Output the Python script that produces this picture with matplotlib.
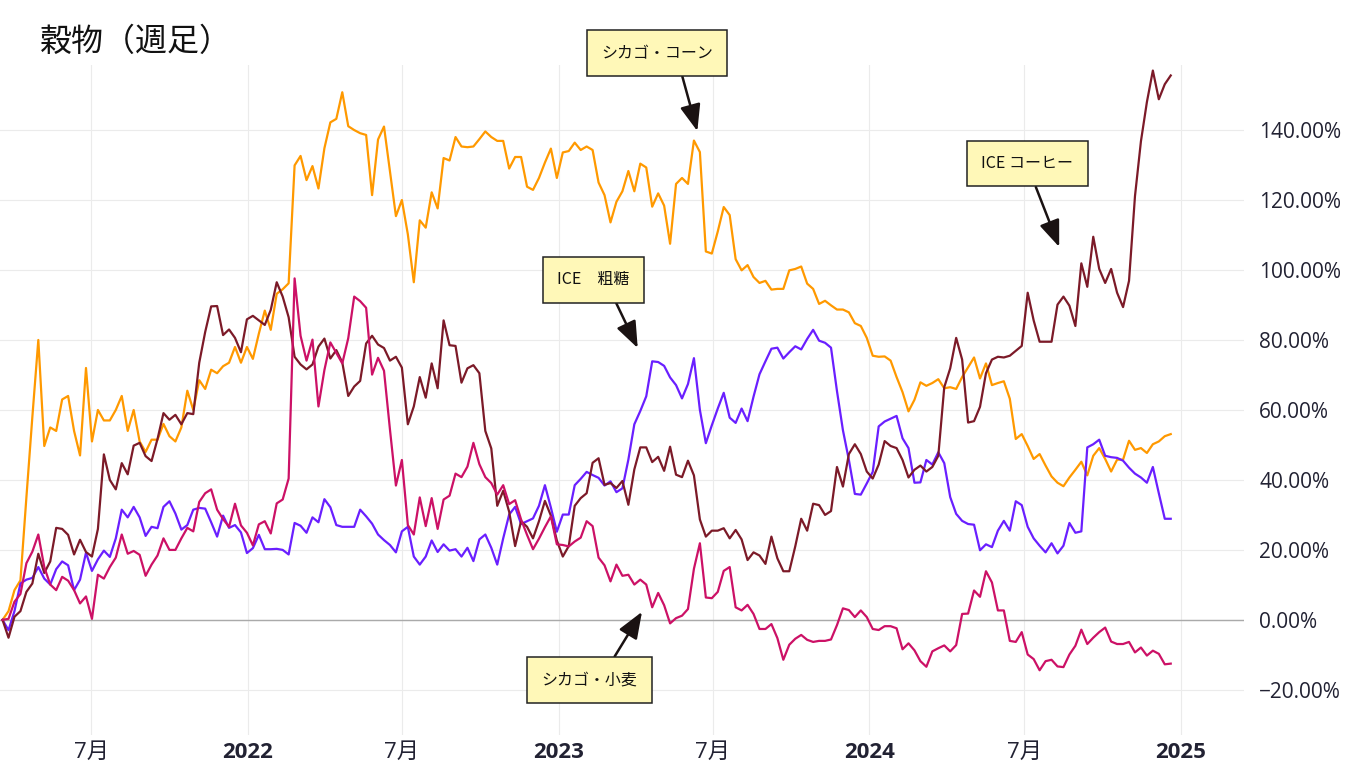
import matplotlib
matplotlib.use("Agg")
import matplotlib.pyplot as plt
from matplotlib.ticker import FuncFormatter
import pandas as pd

# 週足の騰落率（%）、2021-03-19 起点
start_date = "2021-03-19"

corn = [0, 2.5, 8.5, 11.3, 35, 58, 80, 49.7, 55, 54,
        63, 64, 54, 47, 72, 51, 60, 57, 57, 60,
        64, 54, 60, 51, 48, 51.5, 51.5, 56, 52.5, 51,
        55, 65.5, 60, 68.5, 66, 71.5, 70.5, 72.5, 73.5, 78,
        73.5, 78, 74.6, 81.8, 88.4, 82.9, 93.2, 94.5, 96.2, 129.9,
        132.6, 125.7, 129.7, 123.3, 134.8, 142.2, 143.2, 150.8, 141.1, 140,
        139.1, 138.6, 121.4, 137.3, 141, 128.2, 115.4, 120, 110.2, 96.5,
        114.2, 112.1, 122.2, 117.6, 132, 131.3, 138, 135.3, 135.1, 135.3,
        137.4, 139.6, 138, 136.9, 136.9, 129, 132.3, 132.3, 123.8, 122.9,
        126.3, 130.7, 134.7, 126.3, 133.6, 134, 136.4, 134.3, 135.3, 134.3,
        125, 121.4, 113.6, 119.5, 122.5, 128.3, 122.5, 130.4, 129.3, 118.1,
        121.9, 118.4, 107.5, 124.6, 126.3, 124.6, 137, 133.7, 105.3, 104.7,
        111, 118, 115.7, 103.1, 99.9, 101.4, 98, 96.3, 96.9, 94.4,
        94.6, 94.6, 99.9, 100.3, 101, 96.1, 94.6, 90.3, 91.2, 89.9,
        88.7, 88.7, 87.9, 84.8, 84, 80.6, 75.5, 75.2, 75.3, 74.1,
        69.4, 65.1, 59.6, 62.9, 67.9, 66.9, 67.7, 68.8, 66.2, 66.5,
        66, 69.4, 72.2, 75, 69, 73.3, 67.1, 67.7, 68.2, 63.2,
        51.7, 53.1, 49.7, 46, 47.4, 44.1, 41, 39.2, 38.2, 40.7,
        42.9, 45.2, 41.3, 46.9, 49.1, 46, 42.4, 45.8, 45.8, 51.2,
        48.6, 49.1, 47.7, 50.2, 51, 52.5, 53.1]

sugar = [0, -2.95, 2.5, 10.4, 11.5, 12, 15.1, 11.8, 10.1, 14.5,
         16.7, 15.6, 8.5, 11.5, 19.2, 14, 17.3, 19.8, 18, 23.3,
         31.5, 29.3, 32.3, 29.3, 24, 26.6, 26.2, 32.3, 33.9, 30.4,
         25.8, 27.1, 31.5, 32, 31.8, 27.9, 23.8, 29.8, 26.3, 27.1,
         25, 19.1, 20.5, 24.3, 20.2, 20.2, 20.3, 20, 18.7, 27.7,
         26.9, 24.9, 29.3, 27.9, 34.5, 32.2, 27.1, 26.6, 26.6, 26.6,
         31.5, 29.6, 27.5, 24.4, 22.8, 21.4, 19.3, 25.3, 26.6, 18.1,
         15.8, 18.1, 22.7, 19.4, 21.6, 19.8, 20.2, 18.1, 20.6, 16.8,
         23, 24.4, 20.6, 15.8, 23.3, 30.1, 32.3, 27.4, 28.2, 29,
         32.6, 38.5, 32.1, 25.2, 30.1, 30.1, 38.5, 40.3, 42.3, 41.4,
         40.6, 38.4, 39.6, 36.5, 37.6, 45.8, 55.9, 59.7, 63.9, 73.9,
         73.7, 72.6, 69.3, 67.1, 63.3, 67.4, 74.8, 60, 50.5, 55.6,
         60.4, 64.9, 57.8, 56.3, 60.4, 56.8, 63.8, 70.2, 73.9, 77.5,
         77.8, 74.7, 76.5, 78.2, 77.3, 80.3, 82.9, 79.8, 79.2, 77.8,
         65.4, 54.2, 45.7, 36, 35.8, 39, 42.3, 55.3, 56.7, 57.5,
         58.3, 51.9, 49.1, 39.2, 39.3, 45.7, 44.4, 47.9, 44.8, 35.1,
         30.3, 28.3, 27.4, 27.2, 19.9, 21.6, 20.8, 25.5, 28.3, 25.5,
         33.9, 32.8, 26.6, 23.3, 21.2, 19.3, 21.9, 19, 21.2, 27.7,
         24.9, 25.3, 49.3, 50.2, 51.5, 46.9, 46.5, 46.3, 45.5, 43.5,
         41.8, 40.7, 39.2, 43.7, 36.2, 28.9, 28.9]

coffee = [0, -5.1, 0.9, 2.5, 8, 10.4, 18.9, 13.4, 16.7, 26.3,
          26, 24.3, 18.7, 22.9, 19.4, 18.1, 26, 47.3, 40, 37.3,
          44.8, 41.6, 49.8, 50.6, 46.8, 45.4, 51.7, 59.1, 57.2, 58.6,
          55.9, 59.1, 58.8, 73.5, 82.3, 89.6, 89.7, 81.4, 83, 80.6,
          76.5, 85.9, 86.9, 85.6, 84.3, 88.6, 96.5, 92.4, 86.5, 75.2,
          73, 71.6, 73, 78.1, 80.4, 74.7, 77.1, 73.6, 64, 66.7,
          68.3, 79, 81.2, 78.7, 77.7, 74.1, 75.2, 72.1, 55.9, 61,
          69.4, 63.5, 73.3, 66.2, 85.6, 78.5, 78.3, 67.8, 71.9, 72.8,
          70.5, 54, 49, 32.6, 36.9, 30.9, 21.1, 28.2, 26.6, 23.3,
          28.2, 34, 29.8, 22.7, 18.1, 21.1, 32.6, 34.8, 36.2, 44.9,
          46.2, 38.6, 39.1, 37.7, 39.7, 32.9, 43, 49.3, 49.3, 45.1,
          46.6, 42.6, 49.5, 41.5, 40.8, 45.5, 41.3, 28.7, 23.8, 25.5,
          25.5, 26.2, 23.3, 25.7, 23, 17.1, 19.3, 18.4, 16, 23.8,
          17.6, 13.9, 13.9, 21, 28.9, 25.5, 33.2, 32.8, 30, 31.1,
          43.7, 38.1, 47.4, 50.2, 47.4, 42.4, 40.4, 44.4, 51.1, 49.7,
          49.1, 45.7, 40.7, 42.9, 44.1, 42.4, 43.7, 46.9, 66.5, 71.9,
          80.6, 74.4, 56.4, 56.8, 60.9, 70.5, 74.4, 75.2, 75, 75.5,
          76.9, 78.3, 93.5, 85.6, 79.5, 79.5, 79.5, 90.1, 92.4, 89.8,
          84, 101.9, 95.2, 109.5, 100.3, 96.3, 100.3, 93.5, 89.4, 96.9,
          121.1, 136.8, 148, 157, 148.8, 153.1, 155.6]

wheat = [0, 0.3, 5.2, 7.4, 16.2, 19.5, 24.4, 15.1, 10.1, 8.5,
         12.3, 11.2, 8.5, 4.7, 6.7, 0.3, 12.9, 11.8, 15.1, 17.8,
         24.4, 18.9, 19.7, 18.6, 12.6, 15.8, 18.4, 23.3, 20, 20,
         23.3, 26.3, 25.3, 33.7, 36.2, 37.3, 31.5, 28.8, 26.6, 33.2,
         27, 24.9, 21.3, 27.3, 28.2, 24.7, 33.3, 34.4, 40.4, 97.6,
         81.2, 74.1, 80.1, 61, 71.4, 79.3, 76.3, 73.3, 80.5, 92.4,
         91.1, 89.2, 70.1, 74.9, 71.2, 54.4, 38.4, 45.7, 27.1, 24.4,
         35, 26.8, 34.8, 26, 34.4, 35.5, 41.8, 40.8, 43.8, 50.6,
         44.5, 40.8, 39.1, 35.8, 38.5, 33.1, 34.2, 28.7, 24.3, 20.2,
         23.2, 26.5, 29.6, 21.6, 21.4, 21, 22.4, 23.5, 28.2, 26.8,
         17.8, 15.6, 11, 15.8, 12.6, 12.9, 10.1, 11.5, 10.1, 3.6,
         7.7, 4.2, -1, 0.5, 1.2, 3.1, 14.6, 21.9, 6.4, 6.2,
         8, 14, 15.1, 3.6, 2.7, 4.3, 1.7, -2.6, -2.6, -1.2,
         -5.2, -11.4, -7.1, -5.4, -4.3, -5.7, -6.3, -6, -6, -5.6,
         -1.5, 3.3, 2.8, 0.8, 2.7, 0.8, -2.6, -2.9, -1.8, -1.8,
         -2.4, -8.4, -6.7, -8.7, -11.8, -13.4, -9, -8.1, -7.3, -9,
         -7.2, 1.7, 1.8, 8.4, 6.6, 13.9, 10.7, 2.7, 2.7, -6,
         -6.3, -3.5, -9.9, -11.2, -14.4, -11.8, -11.4, -13.3, -13.5, -9.9,
         -7.4, -2.8, -6.9, -5.1, -3.5, -2.2, -6.2, -6.9, -6.9, -6.3,
         -9.3, -7.9, -10.2, -8.8, -9.7, -12.7, -12.5]

# 注釈: ラベル, 矢印の先(日付, 値), テキスト位置のずれ(pt), 矢印の出発点(箱内の相対位置)
ann_labels = ["シカゴ・コーン", "ICE\u3000粗糖", "シカゴ・小麦", "ICE コーヒー"]
ann_dates = ["2023-06-13", "2023-04-04", "2023-04-09", "2024-08-11"]
ann_values = [139.7, 77.7, 2.3, 106.6]
ann_offsets = [(-29, 56), (-32, 49), (-38, -49), (-23, 60)]
ann_relpos = [(0.69, 0), (0.72, 0), (0.67, 1), (0.53, 0)]

x_ticks = ["2021-07-01", "2022-01-01", "2022-07-01", "2023-01-01",
           "2023-07-01", "2024-01-01", "2024-07-01", "2025-01-01"]
x_tick_labels = ["7月", "2022", "7月", "2023", "7月", "2024", "7月", "2025"]

dates = pd.date_range(start_date, periods=len(corn), freq="W-FRI")

plt.rcParams["font.family"] = ["Open Sans", "Noto Sans CJK JP", "DejaVu Sans"]
fig = plt.figure(figsize=(13.57, 7.8), dpi=100)
ax = fig.add_axes([0, 0.0577, 0.9167, 0.859])

ax.plot(dates, corn, color="#ff9900", lw=1.6)
ax.plot(dates, sugar, color="#6a1fff", lw=1.6)
ax.plot(dates, coffee, color="#7c1a28", lw=1.6)
ax.plot(dates, wheat, color="#cc1166", lw=1.6)
ax.axhline(0, color="#aaaaaa", lw=1, zorder=1)

ax.set_xlim(pd.Timestamp("2021-03-16"), pd.Timestamp("2025-03-16"))
ax.set_ylim(-32.9, 158.6)
ax.set_xticks([pd.Timestamp(d) for d in x_ticks])
ax.set_xticklabels(x_tick_labels)
for lab in ax.get_xticklabels():
    if lab.get_text().isdigit():
        lab.set_fontweight("bold")
ax.set_yticks(range(-20, 141, 20))
ax.yaxis.set_major_formatter(FuncFormatter(lambda v, _: f"{v:.2f}%".replace("-", "\u2212")))
ax.yaxis.tick_right()
ax.tick_params(axis="both", length=0, colors="#222233")
ax.tick_params(axis="y", pad=11, labelsize=15)
ax.tick_params(axis="x", pad=5, labelsize=16)
ax.grid(True, color="#ebebeb", lw=0.8)
ax.set_axisbelow(True)
for s in ax.spines.values():
    s.set_visible(False)

for label, d, v, off, rp in zip(ann_labels, ann_dates, ann_values, ann_offsets, ann_relpos):
    ax.annotate(label, xy=(pd.Timestamp(d), v), xytext=off, textcoords="offset points",
                ha="center", va="center", fontsize=11.5, color="#111111",
                family=["Noto Sans CJK JP", "DejaVu Sans"], annotation_clip=False,
                bbox=dict(boxstyle="square,pad=0.9", fc="#fff8b8", ec="#222222", lw=1.1),
                arrowprops=dict(arrowstyle="-|>,head_length=0.9,head_width=0.35",
                                color="#1a1212", lw=1.8, mutation_scale=18,
                                shrinkA=0, shrinkB=0, relpos=rp))

fig.text(40 / 1357, 1 - 42 / 780, "穀物（週足）", fontsize=23, va="center", ha="left",
         color="#111111", family=["Noto Sans CJK JP"])

plt.savefig("out.png", dpi=100)
